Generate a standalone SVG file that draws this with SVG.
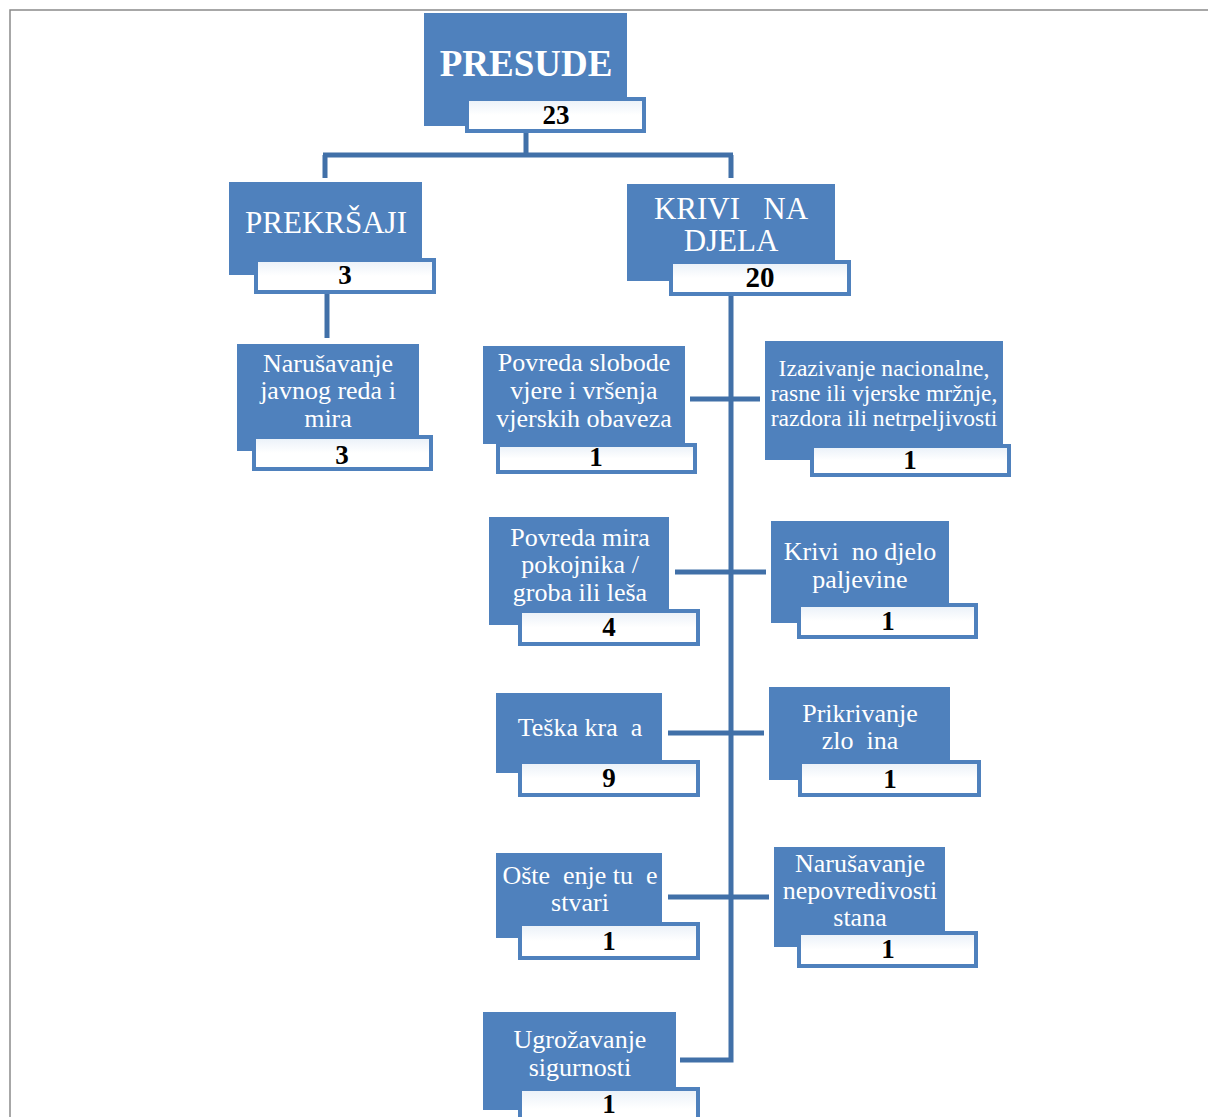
<svg xmlns="http://www.w3.org/2000/svg" width="1208" height="1117" viewBox="0 0 1208 1117">
<style>
.box{fill:#4f81bd;}
.cnt{fill:url(#g);stroke:#4f81bd;stroke-width:4;}
.t{font-family:"Liberation Serif","Times New Roman",serif;fill:#ffffff;text-anchor:middle;white-space:pre;}
.n{font-family:"Liberation Serif","Times New Roman",serif;fill:#000000;font-weight:bold;text-anchor:middle;font-size:27px;}
.c{fill:none;stroke:#4170a8;stroke-width:5;}
.s26{font-size:26px;}
.s23{font-size:23.6px;}
.s31{font-size:31px;}
</style>
<defs>
<linearGradient id="g" x1="0" y1="0" x2="0" y2="1">
<stop offset="0" stop-color="#e9f0f8"/>
<stop offset="0.5" stop-color="#ffffff"/>
<stop offset="1" stop-color="#ffffff"/>
</linearGradient>
</defs>
<rect x="0" y="0" width="1208" height="1117" fill="#ffffff"/>
<path d="M10,1117 V10 H1208" fill="none" stroke="#8a8a8a" stroke-width="1.5"/>
<g id="connectors">
<path class="c" d="M526,133 V155 M323,155 H733 M325,155 V178 M731,155 V178"/>
<path class="c" d="M327,294 V338"/>
<path class="c" d="M731,296 V1060 H680"/>
<path class="c" d="M690,399 H760"/>
<path class="c" d="M675,572 H766"/>
<path class="c" d="M668,733 H764"/>
<path class="c" d="M668,897 H769"/>
</g>
<g id="presude">
<rect class="box" x="424" y="13" width="203" height="113"/>
<rect class="cnt" x="467" y="99" width="177" height="32"/>
<text class="t" x="526" y="76" font-size="37" font-weight="bold">PRESUDE</text>
<text class="n" x="556" y="124" font-size="28">23</text>
</g>
<g id="prekrsaji">
<rect class="box" x="229" y="182" width="193" height="93"/>
<rect class="cnt" x="256" y="260" width="178" height="32"/>
<text class="t s31" x="326" y="233">PREKRŠAJI</text>
<text class="n" x="345" y="284">3</text>
</g>
<g id="krivicna-djela">
<rect class="box" x="627" y="184" width="208" height="97"/>
<rect class="cnt" x="671" y="262" width="178" height="32"/>
<text class="t s31" x="731" y="219">KRIVI   NA</text>
<text class="t s31" x="731" y="251">DJELA</text>
<text class="n" x="760" y="287" style="font-size:29px">20</text>
</g>
<g id="narusavanje-reda">
<rect class="box" x="237" y="344" width="182" height="107"/>
<rect class="cnt" x="254" y="437" width="177" height="32"/>
<text class="t s26" x="328" y="372">Narušavanje</text>
<text class="t s26" x="328" y="399">javnog reda i</text>
<text class="t s26" x="328" y="427">mira</text>
<text class="n" x="342" y="464">3</text>
</g>
<g id="povreda-slobode">
<rect class="box" x="483" y="346" width="202" height="98"/>
<rect class="cnt" x="498" y="445" width="197" height="27"/>
<text class="t s26" x="584" y="371">Povreda slobode</text>
<text class="t s26" x="584" y="399">vjere i vršenja</text>
<text class="t s26" x="584" y="427">vjerskih obaveza</text>
<text class="n" x="596" y="466">1</text>
</g>
<g id="izazivanje">
<rect class="box" x="765" y="341" width="238" height="119"/>
<rect class="cnt" x="812" y="446" width="197" height="29"/>
<text class="t s23" x="884" y="376">Izazivanje nacionalne,</text>
<text class="t s23" x="884" y="401">rasne ili vjerske mržnje,</text>
<text class="t s23" x="884" y="426">razdora ili netrpeljivosti</text>
<text class="n" x="910" y="469">1</text>
</g>
<g id="povreda-mira">
<rect class="box" x="489" y="517" width="180" height="108"/>
<rect class="cnt" x="520" y="611" width="178" height="33"/>
<text class="t s26" x="580" y="546">Povreda mira</text>
<text class="t s26" x="580" y="573">pokojnika /</text>
<text class="t s26" x="580" y="601">groba ili leša</text>
<text class="n" x="609" y="636">4</text>
</g>
<g id="paljevina">
<rect class="box" x="771" y="521" width="178" height="102"/>
<rect class="cnt" x="799" y="605" width="177" height="32"/>
<text class="t s26" x="860" y="560">Krivi  no djelo</text>
<text class="t s26" x="860" y="588">paljevine</text>
<text class="n" x="888" y="630">1</text>
</g>
<g id="teska-kradja">
<rect class="box" x="496" y="693" width="166" height="80"/>
<rect class="cnt" x="520" y="762" width="178" height="33"/>
<text class="t s26" x="580" y="736">Teška kra  a</text>
<text class="n" x="609" y="787">9</text>
</g>
<g id="prikrivanje">
<rect class="box" x="769" y="687" width="181" height="93"/>
<rect class="cnt" x="800" y="762" width="179" height="33"/>
<text class="t s26" x="860" y="722">Prikrivanje</text>
<text class="t s26" x="860" y="749">zlo  ina</text>
<text class="n" x="890" y="788">1</text>
</g>
<g id="ostecenje">
<rect class="box" x="496" y="853" width="166" height="85"/>
<rect class="cnt" x="520" y="924" width="178" height="34"/>
<text class="t s26" x="580" y="884">Ošte  enje tu  e</text>
<text class="t s26" x="580" y="911">stvari</text>
<text class="n" x="609" y="950">1</text>
</g>
<g id="nepovredivost">
<rect class="box" x="774" y="847" width="171" height="100"/>
<rect class="cnt" x="799" y="933" width="177" height="33"/>
<text class="t s26" x="860" y="872">Narušavanje</text>
<text class="t s26" x="860" y="899">nepovredivosti</text>
<text class="t s26" x="860" y="926">stana</text>
<text class="n" x="888" y="958">1</text>
</g>
<g id="ugrozavanje">
<rect class="box" x="483" y="1012" width="193" height="98"/>
<rect class="cnt" x="520" y="1089" width="178" height="40"/>
<text class="t s26" x="580" y="1048">Ugrožavanje</text>
<text class="t s26" x="580" y="1076">sigurnosti</text>
<text class="n" x="609" y="1113">1</text>
</g>
</svg>
